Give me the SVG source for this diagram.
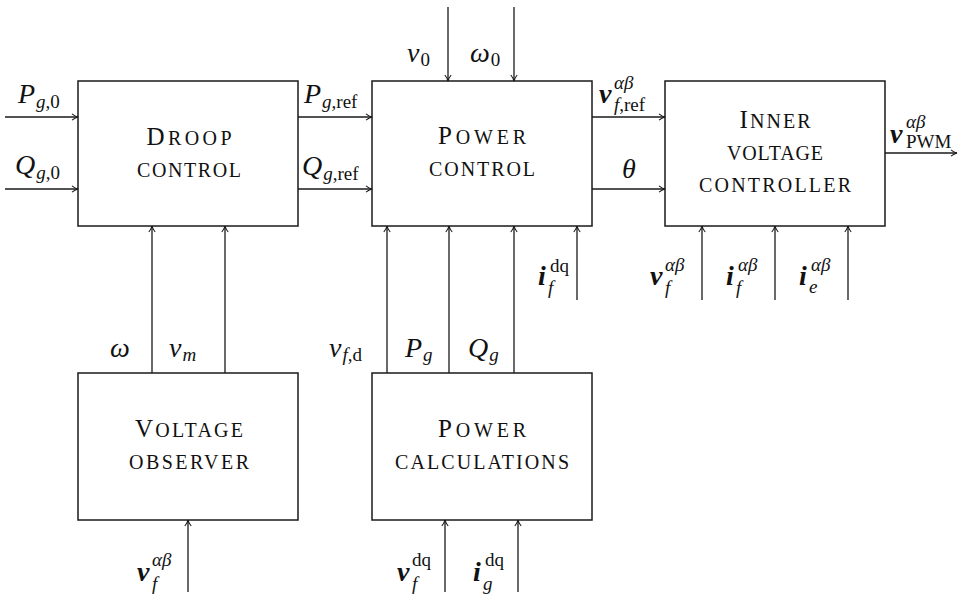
<svg xmlns="http://www.w3.org/2000/svg" width="958" height="595" viewBox="0 0 958 595">
<style>
.box{fill:#fff;stroke:#1a1a1a;stroke-width:1.5}
.t{font-family:"Liberation Serif",serif;font-size:29px;font-variant:small-caps;fill:#111;text-anchor:middle}
.k{font-size:25px}
.m{font-family:"Liberation Serif",serif;font-size:28px;font-style:italic;fill:#111}
.s{font-size:19px}
.u{font-style:normal}
.b{font-weight:bold}
.c line{stroke:#1a1a1a;stroke-width:1.3;marker-end:url(#ar)}
</style>
<defs>
<marker id="ar" viewBox="0 0 10 10" refX="9.5" refY="5" markerWidth="10" markerHeight="10" markerUnits="userSpaceOnUse" orient="auto">
<path d="M3.5,1.8 C5.5,3.5 7.5,4.5 9.5,5 C7.5,5.5 5.5,6.5 3.5,8.2" fill="none" stroke="#1a1a1a" stroke-width="1.1"/>
</marker>
</defs>
<g id="droop">
<rect class="box" x="78" y="81" width="220" height="145"/>
<text class="t" x="189" y="145" textLength="85" lengthAdjust="spacing"><tspan class="k">D</tspan>roop</text>
<text class="t" x="189" y="177" textLength="104" lengthAdjust="spacing">control</text>
</g>
<g id="power-control">
<rect class="box" x="372" y="81" width="220" height="145"/>
<text class="t" x="482" y="144" textLength="88" lengthAdjust="spacing"><tspan class="k">P</tspan>ower</text>
<text class="t" x="482" y="176" textLength="106" lengthAdjust="spacing">control</text>
</g>
<g id="inner">
<rect class="box" x="665" y="81" width="220" height="145"/>
<text class="t" x="775" y="128" textLength="71" lengthAdjust="spacing"><tspan class="k">I</tspan>nner</text>
<text class="t" x="775" y="160" textLength="96" lengthAdjust="spacing">voltage</text>
<text class="t" x="775" y="192" textLength="152" lengthAdjust="spacing">controller</text>
</g>
<g id="observer">
<rect class="box" x="78" y="373" width="220" height="147"/>
<text class="t" x="189" y="437" textLength="108" lengthAdjust="spacing"><tspan class="k">V</tspan>oltage</text>
<text class="t" x="189" y="469" textLength="120" lengthAdjust="spacing">observer</text>
</g>
<g id="calc">
<rect class="box" x="372" y="373" width="220" height="147"/>
<text class="t" x="482" y="437" textLength="88" lengthAdjust="spacing"><tspan class="k">P</tspan>ower</text>
<text class="t" x="482" y="469" textLength="174" lengthAdjust="spacing">calculations</text>
</g>
<g id="connectors" class="c">
<line x1="5" y1="117" x2="78" y2="117"/>
<line x1="5" y1="189" x2="78" y2="189"/>
<line x1="298" y1="117" x2="372" y2="117"/>
<line x1="298" y1="189" x2="372" y2="189"/>
<line x1="448" y1="7" x2="448" y2="81"/>
<line x1="514" y1="7" x2="514" y2="81"/>
<line x1="592" y1="117" x2="665" y2="117"/>
<line x1="592" y1="189" x2="665" y2="189"/>
<line x1="885" y1="153" x2="957" y2="153"/>
<line x1="702" y1="300" x2="702" y2="226"/>
<line x1="775" y1="300" x2="775" y2="226"/>
<line x1="848" y1="300" x2="848" y2="226"/>
<line x1="577" y1="300" x2="577" y2="226"/>
<line x1="387" y1="373" x2="387" y2="226"/>
<line x1="449" y1="373" x2="449" y2="226"/>
<line x1="514" y1="373" x2="514" y2="226"/>
<line x1="152" y1="373" x2="152" y2="226"/>
<line x1="225" y1="373" x2="225" y2="226"/>
<line x1="188" y1="592" x2="188" y2="520"/>
<line x1="445" y1="592" x2="445" y2="520"/>
<line x1="518" y1="592" x2="518" y2="520"/>
</g>
<g id="labels" class="m">
<text x="18" y="103">P<tspan class="s" dx="1" dy="5">g</tspan><tspan class="s u">,0</tspan></text>
<text x="15" y="174">Q<tspan class="s" dx="1" dy="5">g</tspan><tspan class="s u">,0</tspan></text>
<text x="304" y="103">P<tspan class="s" dx="1" dy="5">g</tspan><tspan class="s u">,ref</tspan></text>
<text x="302" y="175">Q<tspan class="s" dx="1" dy="5">g</tspan><tspan class="s u">,ref</tspan></text>
<text x="407" y="62">v<tspan class="s u" dx="1" dy="4">0</tspan></text>
<text x="470" y="62">ω<tspan class="s u" dx="1" dy="4">0</tspan></text>
<text><tspan class="b" x="599" y="103">v</tspan><tspan class="s" x="614" y="89">αβ</tspan><tspan class="s" x="614" y="111">f</tspan><tspan class="s u">,ref</tspan></text>
<text x="622" y="178">θ</text>
<text><tspan class="b" x="890" y="143">v</tspan><tspan class="s" x="906" y="128">αβ</tspan><tspan class="s u" x="906" y="148">PWM</tspan></text>
<text><tspan class="b" x="650" y="285">v</tspan><tspan class="s" x="665" y="271">αβ</tspan><tspan class="s" x="665" y="294">f</tspan></text>
<text><tspan class="b" x="726" y="285">i</tspan><tspan class="s" x="738" y="271">αβ</tspan><tspan class="s" x="736" y="294">f</tspan></text>
<text><tspan class="b" x="799" y="285">i</tspan><tspan class="s" x="811" y="271">αβ</tspan><tspan class="s" x="809" y="293">e</tspan></text>
<text><tspan class="b" x="538" y="285">i</tspan><tspan class="s u" x="550" y="272">dq</tspan><tspan class="s" x="548" y="294">f</tspan></text>
<text x="110" y="357">ω</text>
<text x="169" y="357">v<tspan class="s" dx="1" dy="4">m</tspan></text>
<text x="329" y="357">v<tspan class="s" dx="1" dy="4">f</tspan><tspan class="s u">,d</tspan></text>
<text x="405" y="357">P<tspan class="s" dx="1" dy="4">g</tspan></text>
<text x="468" y="357">Q<tspan class="s" dx="1" dy="4">g</tspan></text>
<text><tspan class="b" x="137" y="581">v</tspan><tspan class="s" x="152" y="566">αβ</tspan><tspan class="s" x="152" y="590">f</tspan></text>
<text><tspan class="b" x="397" y="581">v</tspan><tspan class="s u" x="412" y="566">dq</tspan><tspan class="s" x="412" y="590">f</tspan></text>
<text><tspan class="b" x="473" y="581">i</tspan><tspan class="s u" x="485" y="566">dq</tspan><tspan class="s" x="483" y="590">g</tspan></text>
</g>
</svg>
